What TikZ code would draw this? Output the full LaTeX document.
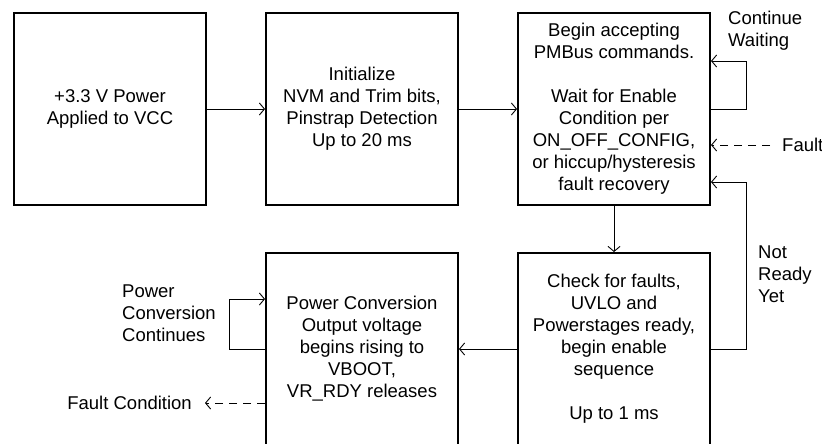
\documentclass[tikz,border=0pt]{standalone}
\usepackage{fontspec}
\setmainfont{Liberation Sans}
\usetikzlibrary{calc}
\usetikzlibrary{arrows.meta}
\tikzset{%
  flowedge/.style={-{Straight Barb[length=5pt,width=12pt]}, line width=0.9pt},
  faultedge/.style={flowedge, dash pattern=on 8pt off 6pt},
  flowbox/.style={rectangle, draw=black, line width=2pt, minimum size=192pt, inner sep=0pt, align=center, font=\fontsize{18.5}{22}\selectfont},
  flowlabel/.style={inner sep=0pt, align=left, font=\fontsize{18.5}{22}\selectfont}
}

\begin{document}
\begin{tikzpicture}[x=1pt, y=-1pt]
  \useasboundingbox (0,0) rectangle (822,444);
  \clip (0,0) rectangle (822,444);

% boxes
\node [flowbox] (P) at (110,109) {+3.3 V Power\\Applied to VCC};
\node [flowbox] (I) at (362,109) {Initialize\\NVM and Trim bits,\\Pinstrap Detection\\Up to 20 ms};
\node [flowbox] (W) at (614,109) {Begin accepting\\PMBus commands.\\[22pt]Wait for Enable\\Condition per\\ON\_OFF\_CONFIG,\\or hiccup/hysteresis\\fault recovery};
\node [flowbox] (C) at (614,349) {Check for faults,\\UVLO and\\Powerstages ready,\\begin enable\\sequence\\[22pt]Up to 1 ms};
\node [flowbox] (R) at (362,349) {Power Conversion\\Output voltage\\begins rising to\\VBOOT,\\VR\_RDY releases};

% labels
\node [flowlabel, anchor=north west] (LW) at (728,11) {Continue\\Waiting};
\node [flowlabel, anchor=west] (LF) at (782,145) {Fault};
\node [flowlabel, anchor=north west] (LN) at (758,246) {Not\\Ready\\Yet};
\node [flowlabel, anchor=north west] (LC) at (122,285) {Power\\Conversion\\Continues};
\node [flowlabel, anchor=east] (LFC) at (192,403) {Fault Condition};

\coordinate (Fin) at (770,145);
\coordinate (Fout) at (205,403);

% main flow
\draw [flowedge] (P) -- (I);
\draw [flowedge] (I) -- (W);
\draw [flowedge] (W) -- (C);
\draw [flowedge] (C) -- (R);

% loops
\draw [flowedge] (W.east) -- ++(35,0) |- ([yshift=48pt]W.east);
\draw [flowedge] (C.east) -- ++(35,0) |- ([yshift=-73pt]W.east);
\draw [flowedge] (R.west) -- ++(-36,0) |- ([yshift=50pt]R.west);

% faults
\draw [faultedge] (Fin) -- (W.east |- Fin);
\draw [faultedge] (R.west |- Fout) -- (Fout);

\end{tikzpicture}
\end{document}
